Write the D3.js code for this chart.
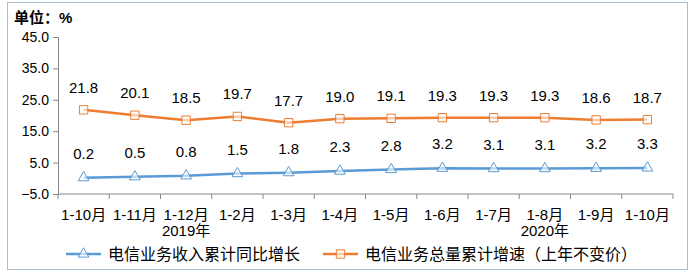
<!DOCTYPE html>
<html>
<head>
<meta charset="utf-8">
<script src="https://cdn.jsdelivr.net/npm/d3@7"></script>
<style>
  body { margin: 0; background: #fff; }
  svg text { font-family: "Liberation Sans", "Noto Sans CJK SC", sans-serif; fill: #000; }
</style>
</head>
<body>
<div id="chart"></div>
<script>
// categories and series
const months = ["1-10月", "1-11月", "1-12月", "1-2月", "1-3月", "1-4月", "1-5月", "1-6月", "1-7月", "1-8月", "1-9月", "1-10月"];
const yearLabels = [{idx: 2, text: "2019年"}, {idx: 9, text: "2020年"}];
const revenueGrowth = [0.2, 0.5, 0.8, 1.5, 1.8, 2.3, 2.8, 3.2, 3.1, 3.1, 3.2, 3.3];
const volumeGrowth = [21.8, 20.1, 18.5, 19.7, 17.7, 19.0, 19.1, 19.3, 19.3, 19.3, 18.6, 18.7];
const yTicks = [-5, 5, 15, 25, 35, 45];
const seriesNames = ["电信业务收入累计同比增长", "电信业务总量累计增速（上年不变价）"];

const width = 697, height = 277;
const margin = {top: 37, right: 23, bottom: 83, left: 58};
const blue = "#5B9BD5", orange = "#ED7D31", axisCol = "#868686";

const svg = d3.select("#chart").append("svg").attr("width", width).attr("height", height);

// outer frame
svg.append("rect").attr("x", 7.5).attr("y", 2.5).attr("width", 680).attr("height", 267)
  .attr("fill", "none").attr("stroke", "#A6BDD7").attr("stroke-width", 1);

svg.append("text").attr("x", 14).attr("y", 23).attr("font-size", 15).attr("font-weight", "bold")
  .text("单位：%");

const x = d3.scaleBand().domain(d3.range(months.length))
  .range([margin.left, width - margin.right - 1]);
const y = d3.scaleLinear().domain([-5, 45]).range([height - margin.bottom, margin.top]);

// y axis
const gy = svg.append("g").attr("transform", `translate(${margin.left},0)`)
  .call(d3.axisLeft(y).tickValues(yTicks).tickFormat(d3.format(".1f")).tickSize(5).tickPadding(4));
gy.select(".domain").attr("stroke", axisCol);
gy.selectAll(".tick line").attr("stroke", axisCol);
gy.selectAll(".tick text").attr("font-size", 14);

// x axis with boundary ticks
const gx = svg.append("g").attr("transform", `translate(0,${y(-5)})`);
gx.append("line").attr("x1", x.range()[0]).attr("x2", x.range()[1]).attr("stroke", axisCol);
gx.selectAll(".bt").data(d3.range(months.length + 1)).join("line")
  .attr("x1", i => x.range()[0] + i * x.bandwidth()).attr("x2", i => x.range()[0] + i * x.bandwidth())
  .attr("y1", 0).attr("y2", 5).attr("stroke", axisCol);
gx.selectAll(".ml").data(months).join("text")
  .attr("x", (d, i) => x(i) + x.bandwidth() / 2).attr("y", 26)
  .attr("text-anchor", "middle").attr("font-size", 15).text(d => d);
gx.selectAll(".yl").data(yearLabels).join("text")
  .attr("x", d => x(d.idx) + x.bandwidth() / 2).attr("y", 42)
  .attr("text-anchor", "middle").attr("font-size", 15).text(d => d.text);

const cx = i => x(i) + x.bandwidth() / 2;
const line = d3.line().x((d, i) => cx(i)).y(d => y(d));

const tri = d3.symbol().type(d3.symbolTriangle).size(50);
const sq = d3.symbol().type(d3.symbolSquare).size(70);

function drawSeries(vals, color, sym, dy) {
  svg.append("path").datum(vals).attr("d", line).attr("fill", "none")
    .attr("stroke", color).attr("stroke-width", 2.5);
  svg.append("g").selectAll("path").data(vals).join("path")
    .attr("d", sym).attr("transform", (d, i) => `translate(${cx(i)},${y(d)})`)
    .attr("fill", "#fff").attr("fill-opacity", 0.6).attr("stroke", color).attr("stroke-width", 1);
  svg.append("g").selectAll("text").data(vals).join("text")
    .attr("x", (d, i) => cx(i)).attr("y", d => y(d) + dy)
    .attr("text-anchor", "middle").attr("font-size", 15).text(d => d.toFixed(1));
}
drawSeries(volumeGrowth, orange, sq, -17);
drawSeries(revenueGrowth, blue, tri, -19);

// legend
const legend = [
  {name: seriesNames[0], color: blue, sym: tri, x0: 66},
  {name: seriesNames[1], color: orange, sym: sq, x0: 323}
];
const lg = svg.append("g").attr("transform", "translate(0,254)");
legend.forEach(l => {
  lg.append("line").attr("x1", l.x0).attr("x2", l.x0 + 35).attr("stroke", l.color).attr("stroke-width", 2.5);
  lg.append("path").attr("d", l.sym).attr("transform", `translate(${l.x0 + 17.5},0)`)
    .attr("fill", "#fff").attr("fill-opacity", 0.6).attr("stroke", l.color);
  lg.append("text").attr("x", l.x0 + 42).attr("y", 6).attr("font-size", 16).text(l.name);
});
</script>
</body>
</html>
